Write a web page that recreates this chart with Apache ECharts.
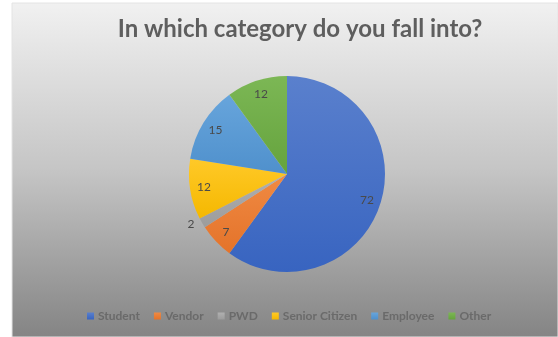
<!DOCTYPE html>
<html>
<head>
<meta charset="utf-8">
<script src="https://cdn.jsdelivr.net/npm/echarts@6/dist/echarts.min.js"></script>
<style>
  html, body { margin: 0; padding: 0; background: #ffffff; }
  #chart { width: 558px; height: 337px; }
</style>
</head>
<body>
<div id="chart"></div>
<script>
// Survey answers: respondent category counts
const categories = ['Student', 'Vendor', 'PWD', 'Senior Citizen', 'Employee', 'Other'];
const counts = [72, 7, 2, 12, 15, 12];
const palette = [
  ['#5a80cd', '#3864c0'],
  ['#f08a43', '#e4732a'],
  ['#b0b0b0', '#9c9c9c'],
  ['#ffc928', '#f5b800'],
  ['#67a5dc', '#4f90cc'],
  ['#7cb755', '#65a33d']
];
const titleText = 'In which category do you fall into?';

function shade(pair) {
  return new echarts.graphic.LinearGradient(0, 0, 0, 1, [
    { offset: 0, color: pair[0] },
    { offset: 1, color: pair[1] }
  ]);
}

const sliceData = categories.map((name, i) => ({
  name: name,
  value: counts[i],
  itemStyle: { color: shade(palette[i]) }
}));

// Label ring: an invisible band whose middle carries the value labels
const labelData = categories.map((name, i) => {
  const item = { name: name, value: counts[i] };
  if (name === 'PWD') {
    item.label = { position: 'outside' };
    item.labelLine = { show: false, length: 3, length2: 0 };
  }
  return item;
});

const chart = echarts.init(document.getElementById('chart'), null, { renderer: 'canvas' });
chart.setOption({
  animation: false,
  backgroundColor: '#ffffff',
  graphic: [{
    type: 'rect',
    z: -10,
    silent: true,
    shape: { x: 12, y: 3, width: 546, height: 334 },
    style: {
      fill: new echarts.graphic.LinearGradient(0, 0, 0, 1, [
        { offset: 0, color: '#f1f1f1' },
        { offset: 0.5, color: '#c5c5c5' },
        { offset: 1, color: '#848484' }
      ]),
      stroke: '#e4e4e4',
      lineWidth: 1
    }
  }],
  title: {
    text: titleText,
    left: 300,
    top: 17,
    padding: 0,
    textAlign: 'center',
    textStyle: {
      fontFamily: 'Lato',
      fontWeight: 'bold',
      fontSize: 24,
      color: '#5e5e5e'
    }
  },
  legend: {
    data: categories,
    left: 87,
    top: 310,
    padding: 0,
    icon: 'rect',
    itemWidth: 7,
    itemHeight: 7,
    itemGap: 14,
    textStyle: {
      fontFamily: 'Lato',
      fontWeight: 'bold',
      fontSize: 12,
      color: '#6a6a6a',
      padding: [0, 0, 0, -1]
    }
  },
  series: [
    {
      type: 'pie',
      center: [287, 174],
      radius: [0, 98],
      startAngle: 90,
      clockwise: true,
      silent: true,
      label: { show: false },
      labelLine: { show: false },
      data: sliceData
    },
    {
      type: 'pie',
      center: [287, 174],
      radius: [64, 98],
      startAngle: 90,
      clockwise: true,
      silent: true,
      itemStyle: { color: 'rgba(0,0,0,0)' },
      label: {
        show: true,
        position: 'inside',
        formatter: '{c}',
        fontFamily: 'Lato',
        fontSize: 12,
        color: '#4a4a4a'
      },
      labelLine: { show: false },
      data: labelData
    }
  ]
});
</script>
</body>
</html>
